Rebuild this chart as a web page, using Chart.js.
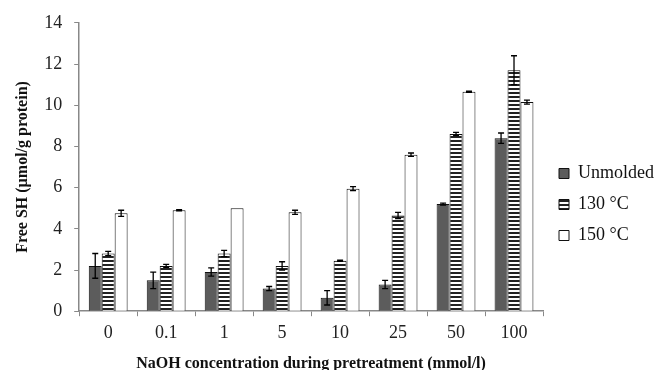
<!DOCTYPE html>
<html>
<head>
<meta charset="utf-8">
<script src="https://cdn.jsdelivr.net/npm/chart.js@4"></script>
<style>
	html, body { margin: 0; padding: 0; background: #fff; }
	#wrap { width: 655px; height: 370px; position: relative; }
</style>
</head>
<body>
<div id="wrap"><canvas id="sh-chart"></canvas></div>
<script>
	// Data
	const concentrations = ['0', '0.1', '1', '5', '10', '25', '50', '100'];
	const unmolded = [2.2, 1.5, 1.9, 1.1, 0.65, 1.3, 5.2, 8.4];
	const unmoldedErr = [0.6, 0.4, 0.2, 0.1, 0.35, 0.2, 0.05, 0.25];
	const molded130 = [2.8, 2.2, 2.8, 2.2, 2.45, 4.65, 8.6, 11.7];
	const molded130Err = [0.1, 0.07, 0.15, 0.2, 0.03, 0.15, 0.08, 0.7];
	const molded150 = [4.75, 4.9, 5.0, 4.8, 5.95, 7.6, 10.65, 10.15];
	const molded150Err = [0.15, 0.03, 0, 0.1, 0.1, 0.08, 0.03, 0.1];
	const yTicks = [0, 2, 4, 6, 8, 10, 12, 14];

	const serif = "'Liberation Serif', 'DejaVu Serif', serif";

	/**
	 * Horizontal stripe pattern for the 130 °C series
	 */
	function makeStripes() {
		const c = document.createElement('canvas');
		c.width = 4;
		c.height = 4;
		const ctx = c.getContext('2d');
		ctx.fillStyle = '#fff';
		ctx.fillRect(0, 0, 4, 4);
		ctx.fillStyle = '#222';
		ctx.fillRect(0, 0, 4, 2);
		return ctx.createPattern(c, 'repeat');
	}

	/**
	 * Error bar plugin: draws +/- whiskers from the errors attached to each dataset
	 */
	const errorBars = {
		id: 'errorBars',
		afterDatasetsDraw(chart) {
			const ctx = chart.ctx;
			const y = chart.scales.y;
			ctx.save();
			ctx.strokeStyle = '#000';
			ctx.lineWidth = 1.3;
			chart.data.datasets.forEach((ds, i) => {
				const meta = chart.getDatasetMeta(i);
				meta.data.forEach((bar, j) => {
					const err = ds.errors[j];
					if (!err) return;
					const v = ds.data[j];
					const top = y.getPixelForValue(v + err);
					const bottom = y.getPixelForValue(v - err);
					ctx.beginPath();
					ctx.moveTo(bar.x, top);
					ctx.lineTo(bar.x, bottom);
					ctx.moveTo(bar.x - 3, top);
					ctx.lineTo(bar.x + 3, top);
					ctx.moveTo(bar.x - 3, bottom);
					ctx.lineTo(bar.x + 3, bottom);
					ctx.stroke();
				});
			});
			ctx.restore();
		}
	};

	/**
	 * Nudge the legend box to where it sits in the figure
	 */
	const legendShift = {
		id: 'legendShift',
		afterLayout(chart) {
			const lg = chart.legend;
			if (!lg) return;
			lg.left += 3;
			lg.right += 3;
			lg.top += 12;
			lg.bottom += 12;
		}
	};

	new Chart(document.getElementById('sh-chart'), {
		type: 'bar',
		data: {
			labels: concentrations,
			datasets: [
				{
					label: 'Unmolded',
					data: unmolded,
					errors: unmoldedErr,
					backgroundColor: '#5c5c5c',
					borderColor: '#111',
					borderWidth: 1
				},
				{
					label: '130 °C',
					data: molded130,
					errors: molded130Err,
					backgroundColor: makeStripes(),
					borderColor: '#111',
					borderWidth: 1
				},
				{
					label: '150 °C',
					data: molded150,
					errors: molded150Err,
					backgroundColor: '#fff',
					borderColor: '#111',
					borderWidth: 1
				}
			]
		},
		options: {
			responsive: true,
			maintainAspectRatio: false,
			animation: false,
			devicePixelRatio: 1,
			categoryPercentage: 0.67,
			barPercentage: 1.0,
			layout: {
				padding: { left: 13, right: 0, top: 12, bottom: -3 }
			},
			plugins: {
				legend: {
					position: 'right',
					align: 'center',
					maxWidth: 112,
					labels: {
						boxWidth: 10,
						boxHeight: 10,
						padding: 13,
						color: '#111',
						font: { family: serif, size: 18 }
					}
				},
				tooltip: { enabled: false }
			},
			scales: {
				x: {
					grid: {
						display: true,
						drawOnChartArea: false,
						drawTicks: true,
						tickLength: 5,
						color: '#888',
						offset: true
					},
					border: { color: '#888', width: 1.5 },
					ticks: {
						color: '#222',
						padding: 6,
						font: { family: serif, size: 18 }
					},
					title: {
						display: true,
						text: 'NaOH concentration during pretreatment (mmol/l)',
						color: '#111',
						padding: { top: 4, bottom: 0 },
						font: { family: serif, size: 16, weight: 'bold' }
					}
				},
				y: {
					min: 0,
					max: 14,
					afterBuildTicks: scale => {
						scale.ticks = yTicks.map(v => ({ value: v }));
					},
					grid: {
						display: true,
						drawOnChartArea: false,
						drawTicks: true,
						tickLength: 5,
						color: '#888'
					},
					border: { color: '#888', width: 1.5 },
					ticks: {
						color: '#222',
						padding: 12,
						font: { family: serif, size: 18 }
					},
					title: {
						display: true,
						text: 'Free SH (µmol/g protein)',
						color: '#111',
						padding: { top: 0, bottom: 0 },
						font: { family: serif, size: 16, weight: 'bold' }
					}
				}
			}
		},
		plugins: [errorBars, legendShift]
	});
</script>
</body>
</html>
